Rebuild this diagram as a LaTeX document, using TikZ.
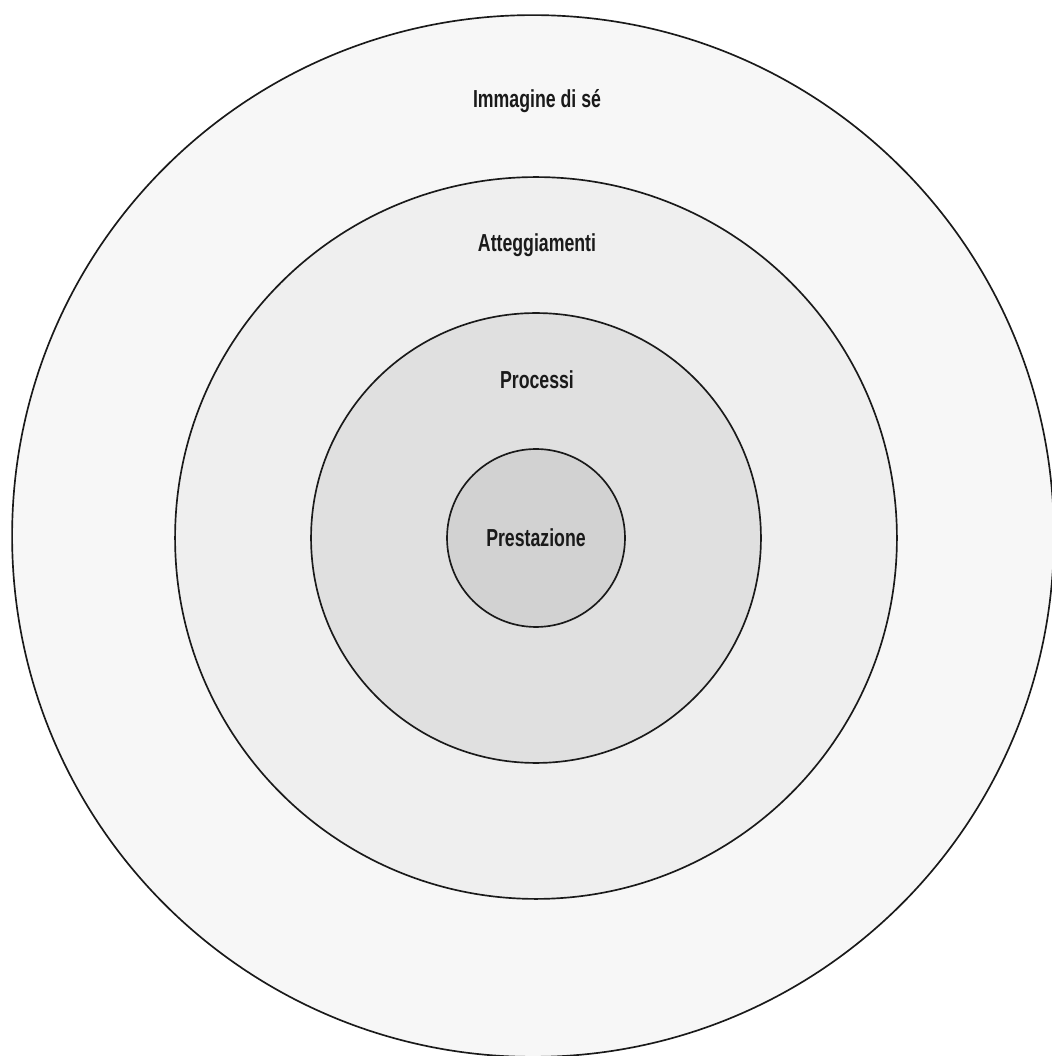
\documentclass[tikz,border=0pt]{standalone}
\usepackage{fontspec}
\setmainfont[FakeStretch=0.72]{Liberation Sans}
\usepackage{xcolor}
\usepackage{tikz}
\definecolor{ringA}{HTML}{F7F7F7}
\definecolor{ringB}{HTML}{EFEFEF}
\definecolor{ringC}{HTML}{E0E0E0}
\definecolor{ringD}{HTML}{D2D2D2}
\definecolor{edge}{HTML}{1A1A1A}

\begin{document}
\begin{tikzpicture}
  [
    x=0.02cm, y=0.02cm,
    ring/.style={
       circle,
       draw=edge,
       line width=0.95pt,
       inner sep=0pt
    },
    lbl/.style={
       font=\fontsize{14}{16}\selectfont\bfseries,
       text=edge,
       inner sep=0pt
    }
  ]
  \clip (0,0) rectangle (1052,1056);
  \node (self)   at (533,520) [ring, fill=ringA, minimum size=20.84cm] {};
  \node (att)    at (536,518) [ring, fill=ringB, minimum size=14.44cm] {};
  \node (proc)   at (536,518) [ring, fill=ringC, minimum size=9.0cm]   {};
  \node (prest)  at (536,518) [ring, fill=ringD, minimum size=3.56cm, lbl] {Prestazione};

  \node (selfLbl) at (537,955) [lbl] {Immagine di sé};
  \node (attLbl)  at (537,811) [lbl] {Atteggiamenti};
  \node (procLbl) at (537,676) [lbl] {Processi};
\end{tikzpicture}
\end{document}
